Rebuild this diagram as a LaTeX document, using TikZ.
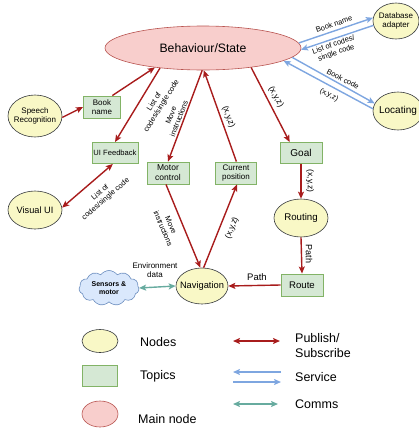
\documentclass[tikz,border=0pt]{standalone}
\usepackage{fontspec}
\setmainfont{Liberation Sans}
\usetikzlibrary{arrows.meta,shapes.geometric,shapes.symbols}
\definecolor{pubred}{RGB}{168,28,28}
\definecolor{srvblue}{HTML}{7EA6E0}
\definecolor{commteal}{HTML}{67AB9F}
\definecolor{yfill}{HTML}{F9F8C6}
\definecolor{ystroke}{HTML}{36393D}
\definecolor{gfill}{HTML}{D5E8D4}
\definecolor{gstroke}{HTML}{82B366}
\definecolor{pfill}{HTML}{F8CECC}
\definecolor{pstroke}{HTML}{B85450}
\definecolor{cfill}{HTML}{DAE8FC}
\definecolor{cstroke}{HTML}{6C8EBF}
\newcommand{\myfs}[2]{\fontsize{#1}{#2}\selectfont}
\tikzset{
  tip/.tip={Stealth[length=7pt,width=6pt,inset=1.5pt]},
  ynode/.style={ellipse, draw=ystroke, fill=yfill, inner sep=-4pt, align=center, line width=0.6pt},
  topic/.style={rectangle, draw=gstroke, fill=gfill, inner sep=0pt, align=center, line width=0.9pt},
  mainnode/.style={ellipse, draw=pstroke, fill=pfill, inner sep=-4pt, line width=0.6pt},
  pub/.style={draw=pubred, line width=1.4pt, -tip},
  pubboth/.style={draw=pubred, line width=1.4pt, tip-tip},
  srv/.style={draw=srvblue, line width=1.4pt, -tip},
  comm/.style={draw=commteal, line width=1.4pt, tip-tip},
  lbl/.style={font=\myfs{7.5}{8.5}, align=center, inner sep=0pt},
  xyz/.style={font=\myfs{8.5}{10}, inner sep=0pt},
  legtext/.style={font=\myfs{12.5}{15}, align=left, inner sep=0pt, anchor=west},
}
\begin{document}
\begin{tikzpicture}[x=1pt,y=-1pt]
\useasboundingbox (0,0) rectangle (419,429);

% main and nodes
\node[mainnode, minimum width=196pt, minimum height=44pt, font=\myfs{12.2}{14}] (beh) at (203,48) {Behaviour/State};
\node[ynode, minimum width=46pt, minimum height=36pt, font=\myfs{8}{9.5}] (db) at (396,21) {Database\\adapter};
\node[ynode, minimum width=50pt, minimum height=38pt, font=\myfs{10}{12}] (loc) at (398,111) {Locating};
\node[ynode, minimum width=54pt, minimum height=42pt, font=\myfs{8}{9.5}] (sr) at (35,116) {Speech\\Recognition};
\node[topic, minimum width=37pt, minimum height=22pt, font=\myfs{8}{9.5}] (bn) at (102,107) {Book\\name};
\node[topic, minimum width=46pt, minimum height=21pt, font=\myfs{7.6}{9}] (uif) at (115,153) {UI Feedback};
\node[ynode, minimum width=54pt, minimum height=38pt, font=\myfs{9.2}{11}] (vui) at (35,210) {Visual UI};
\node[topic, minimum width=42pt, minimum height=22pt, font=\myfs{8.5}{10}] (mc) at (168,173) {Motor\\control};
\node[topic, minimum width=41pt, minimum height=22pt, font=\myfs{8}{9.5}] (cp) at (236,173) {Current\\position};
\node[topic, minimum width=42pt, minimum height=21pt, font=\myfs{10}{12}] (goal) at (301,153) {Goal};
\node[ynode, minimum width=54pt, minimum height=38pt, font=\myfs{9.7}{11.5}] (rt) at (301,218) {Routing};
\node[topic, minimum width=42pt, minimum height=22pt, font=\myfs{9.6}{11.5}] (route) at (302,285) {Route};
\node[ynode, minimum width=52pt, minimum height=36pt, font=\myfs{9.3}{11}] (nav) at (202,286) {Navigation};
\node[cloud, cloud puffs=11, cloud puff arc=110, aspect=1.8, draw=cstroke, fill=cfill, line width=0.6pt, minimum width=60pt, minimum height=35pt, inner sep=-2pt, align=center, font=\bfseries\myfs{7}{8.5}] (sens) at (109,288) {Sensors \&\\motor};

% publish / subscribe
\draw[pub] (sr.-3) -- (bn.west);
\draw[pub] (bn.48) -- (beh.202);
\draw[pub] (beh.205) -- (uif.north);
\draw[pubboth] (vui.5) -- (uif.259);
\draw[pub] (beh.-92) -- (mc.north);
\draw[pub] (cp.88) -- (beh.-88);
\draw[pub] (beh.-22) -- (goal.136);
\draw[pub] (goal.south) -- (rt.north);
\draw[pub] (rt.south) -- (route.north);
\draw[pub] (route.west) -- (nav.east);
\draw[pub] (mc.-100) -- (nav.95);
\draw[pub] (nav.85) -- (cp.-85);

% services
\draw[srv] (beh.3) -- (db.172);
\draw[srv] (db.191) -- (beh.-1);
\draw[srv] (beh.-6) -- (loc.162);
\draw[srv] (loc.175) -- (beh.-9);

% comms
\draw[comm] (sens.east) -- (nav.west);

% labels
\node[lbl, rotate=58] (l1) at (158,104) {List of\\codes/single code};
\node[lbl, rotate=41] (l2) at (103,196) {List of\\codes/single code};
\node[lbl, rotate=69] (l3) at (175,117) {Move\\instructions};
\node[xyz, rotate=-70] (l4) at (228.5,117) {(x,y,z)};
\node[xyz, rotate=-61] (l5) at (276,97) {(x,y,z)};
\node[xyz, rotate=-90] (l6) at (310,181) {(x,y,z)};
\node[xyz, rotate=-90, font=\myfs{9}{10}] (l7) at (309,254) {Path};
\node[xyz, font=\myfs{9.5}{11}] (l8) at (257,277) {Path};
\node[lbl, rotate=-67] (l9) at (167,227) {Move\\instructions};
\node[xyz, rotate=68] (l10) at (232,228) {(x,y,z)};
\node[lbl, rotate=19] (l11) at (334,24) {Book name};
\node[lbl, rotate=19] (l12) at (335,49) {List of codes/\\single code};
\node[lbl, rotate=-28] (l13) at (343,79) {Book code};
\node[lbl, rotate=-28] (l14) at (329,95) {(x,y,z)};
\node[lbl, font=\myfs{8}{9.5}] (l15) at (155,270) {Environment\\data};

% legend
\node[ynode, minimum width=36pt, minimum height=23pt] (lgn) at (100,341) {};
\node[topic, minimum width=35pt, minimum height=21pt] (lgt) at (100,376) {};
\node[mainnode, minimum width=36pt, minimum height=26pt] (lgm) at (100,414) {};
\node[legtext] (tn) at (140,342) {Nodes};
\node[legtext] (tt) at (140,376) {Topics};
\node[legtext] (tm) at (138,419) {Main node};
\node[legtext] (tp) at (295,345.5) {Publish/\\Subscribe};
\node[legtext] (ts) at (295,377) {Service};
\node[legtext] (tc) at (295,404) {Comms};
\coordinate (pa) at (233,341);
\coordinate (pb) at (280,341);
\coordinate (sa) at (233,372);
\coordinate (sb) at (281,372);
\coordinate (sc) at (233,382);
\coordinate (sd) at (281,382);
\coordinate (ca) at (233,404);
\coordinate (cb) at (278,404);
\draw[pubboth] (pa) -- (pb);
\draw[srv] (sb) -- (sa);
\draw[srv] (sc) -- (sd);
\draw[comm] (ca) -- (cb);
\end{tikzpicture}
\end{document}
